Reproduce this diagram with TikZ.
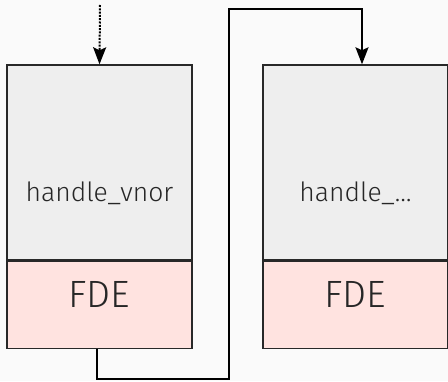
\documentclass[tikz,border=0pt]{standalone}
\usepackage{fontspec}
\setmainfont{Fira Sans Light}
\usepackage{tikz}
\usetikzlibrary{arrows.meta,positioning}
\definecolor{bg}{RGB}{250,250,250}
\definecolor{fn1}{RGB}{238,238,238}
\definecolor{fde1}{RGB}{255,227,224}
\definecolor{edge1}{RGB}{40,40,40}

\begin{document}
\begin{tikzpicture}[x=1pt,y=1pt,
		fnbox/.style={draw=edge1,line width=1.4pt,fill=fn1,minimum width=185pt,minimum height=195pt,inner sep=0pt},
		fdebox/.style={draw=edge1,line width=1.4pt,fill=fde1,minimum width=185pt,minimum height=87pt,inner sep=0pt},
		fntext/.style={font=\fontsize{26.5}{30}\selectfont,text=black!85},
		fdetext/.style={font=\fontsize{38}{42}\selectfont,text=black!85},
		flow/.style={line width=2pt,-{Stealth[length=17pt,width=13pt,inset=3pt]}}]
			\fill[bg] (0,0) rectangle (448,381);
			\useasboundingbox (0,0) rectangle (448,381);
			% left function
			\node[fnbox] (fnA) at (99.5,218.5) {};
			\node[fdebox,below=0pt of fnA] (fdeA) {};
			\node[fntext] (fnAtxt) at ([yshift=-31pt]fnA.center) {handle\_vnor};
			\node[fdetext] (fdeAtxt) at ([yshift=10pt]fdeA.center) {FDE};
			% right function
			\node[fnbox] (fnB) at (355.5,218.5) {};
			\node[fdebox,below=0pt of fnB] (fdeB) {};
			\node[fntext] (fnBtxt) at ([yshift=-31pt]fnB.center) {handle\_\ldots};
			\node[fdetext] (fdeBtxt) at ([yshift=10pt]fdeB.center) {FDE};
			% arrows
			\coordinate (entry) at (100,376);
			\coordinate (low) at (229,2);
			\coordinate (high) at (229,372);
			\draw[flow,dash pattern=on 2pt off 1.3pt] (entry) -- (fnA.north);
			\draw[flow] ([xshift=-2.5pt]fdeA.south) |- (low) -- (high) -| ([xshift=6.5pt]fnB.north);
		\end{tikzpicture}
\end{document}
